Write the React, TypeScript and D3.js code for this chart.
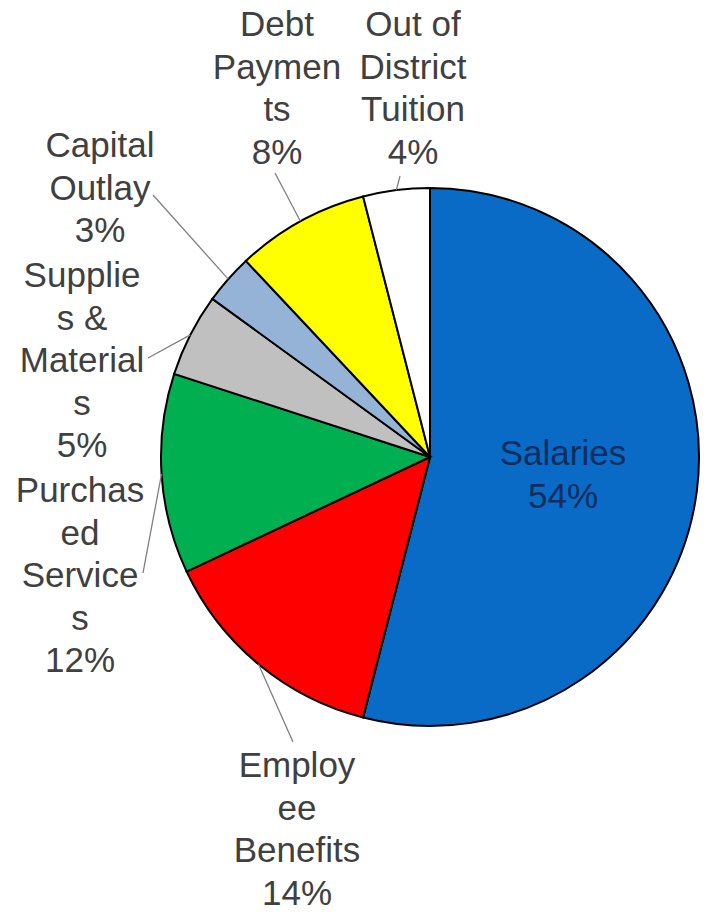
import React from "react";
import * as d3 from "d3";

const categories = [
  "Salaries",
  "Employee Benefits",
  "Purchased Services",
  "Supplies & Materials",
  "Capital Outlay",
  "Debt Payments",
  "Out of District Tuition",
];
const values = [54, 14, 12, 5, 3, 8, 4];
const percentLabels = ["54%", "14%", "12%", "5%", "3%", "8%", "4%"];
const labelLines = [
  ["Salaries", "54%"],
  ["Employ", "ee", "Benefits", "14%"],
  ["Purchas", "ed", "Service", "s", "12%"],
  ["Supplie", "s &", "Material", "s", "5%"],
  ["Capital", "Outlay", "3%"],
  ["Debt", "Paymen", "ts", "8%"],
  ["Out of", "District", "Tuition", "4%"],
];

const colors = ["#0a6bc6", "#ff0000", "#00b050", "#c0c0c0", "#95b3d7", "#ffff00", "#ffffff"];

// layout: label text center x, first baseline y, leader anchor (null = none)
const labelLayout: { x: number; y: number; anchor: [number, number] | null; color: string }[] = [
  { x: 563, y: 465, anchor: null, color: "#0f2d5e" },
  { x: 297, y: 777, anchor: [293, 742], color: "#404040" },
  { x: 80, y: 502, anchor: [143, 573], color: "#404040" },
  { x: 82, y: 287, anchor: [148, 358], color: "#404040" },
  { x: 100, y: 157, anchor: [153, 195], color: "#404040" },
  { x: 277, y: 36, anchor: [275, 173], color: "#404040" },
  { x: 413, y: 36, anchor: [400, 176], color: "#404040" },
];

export default function App() {
  const W = 706;
  const H = 916;
  const cx = 430;
  const cy = 457;
  const r = 269;
  const lineH = 42.5;

  const pie = d3.pie<number>().sort(null).value((d) => d)(values);
  const arc = d3.arc<d3.PieArcDatum<number>>().innerRadius(0).outerRadius(r);

  return (
    <svg
      width={W}
      height={H}
      style={{ position: "absolute", left: 0, top: 0, background: "#fff" }}
      fontFamily="'Liberation Sans', Arial, sans-serif"
    >
      <g transform={`translate(${cx},${cy})`}>
        {pie.map((p, i) => (
          <path key={categories[i]} d={arc(p) || ""} fill={colors[i]} stroke="#000" strokeWidth={2} />
        ))}
      </g>
      {pie.map((p, i) => {
        const L = labelLayout[i];
        if (!L.anchor) return null;
        const mid = (p.startAngle + p.endAngle) / 2;
        const ex = cx + r * Math.sin(mid);
        const ey = cy - r * Math.cos(mid);
        return (
          <line key={"l" + i} x1={L.anchor[0]} y1={L.anchor[1]} x2={ex} y2={ey} stroke="#7f7f7f" strokeWidth={1.3} />
        );
      })}
      {labelLines.map((lines, i) => {
        const L = labelLayout[i];
        return (
          <text key={"t" + i} textAnchor="middle" fontSize={35} fill={L.color}>
            {lines.map((ln, j) => (
              <tspan key={j} x={L.x} y={L.y + j * lineH}>
                {ln}
              </tspan>
            ))}
          </text>
        );
      })}
      <desc>{percentLabels.join(",")}</desc>
    </svg>
  );
}
